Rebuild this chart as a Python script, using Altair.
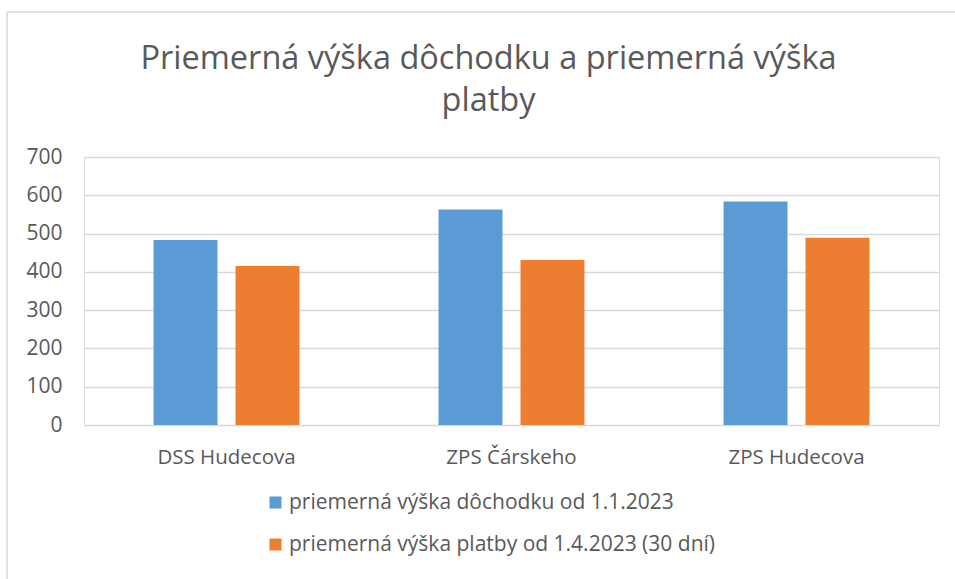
import altair as alt
import pandas as pd

categories = ["DSS Hudecova", "ZPS Čárskeho", "ZPS Hudecova"]
series = ["priemerná výška dôchodku od 1.1.2023", "priemerná výška platby od 1.4.2023 (30 dní)"]
pension = [483, 563, 584]
payment = [415, 431, 489]
y_ticks = [0, 100, 200, 300, 400, 500, 600, 700]
colors = ["#5B9BD5", "#ED7D31"]

rows = []
for c, a, b in zip(categories, pension, payment):
    rows.append({"kategoria": c, "rad": series[0], "hodnota": a})
    rows.append({"kategoria": c, "rad": series[1], "hodnota": b})
df = pd.DataFrame(rows)

FONT = "Open Sans"
TXT = "#595959"

bars = alt.Chart(df).mark_bar().encode(
    x=alt.X("kategoria:N", sort=categories, title=None,
            scale=alt.Scale(paddingInner=0, paddingOuter=0),
            axis=alt.Axis(labelAngle=0, ticks=False, domain=False, labelPadding=22,
                          labelFontSize=20.5, labelColor=TXT, labelFont=FONT, grid=False)),
    xOffset=alt.XOffset("rad:N", sort=series,
                        scale=alt.Scale(paddingInner=0.22, paddingOuter=0.848)),
    y=alt.Y("hodnota:Q", title=None,
            scale=alt.Scale(domain=[0, 700]),
            axis=alt.Axis(values=y_ticks, ticks=False, domain=False, labelPadding=22,
                          labelFontSize=21, labelColor=TXT, labelFont=FONT,
                          gridColor="#d9d9d9", gridWidth=1.5)),
    color=alt.Color("rad:N", sort=series, title=None,
                    scale=alt.Scale(domain=series, range=colors),
                    legend=alt.Legend(orient="none", legendX=181, legendY=335,
                                      direction="vertical", symbolType="square",
                                      symbolSize=144, symbolStrokeWidth=0,
                                      labelFontSize=21, labelColor=TXT, labelFont=FONT,
                                      rowPadding=20, labelOffset=3, labelLimit=700)),
)

border = alt.Chart(alt.Data(values=[{"a": 1}])).mark_rule(color="#d9d9d9", strokeWidth=1.5).encode(
    x=alt.value(-77), y=alt.value(-145), y2=alt.value(430)
)
border_top = alt.Chart(alt.Data(values=[{"a": 1}])).mark_rule(color="#d9d9d9", strokeWidth=1.5).encode(
    x=alt.value(-77), x2=alt.value(880), y=alt.value(-145)
)

chart = alt.layer(border, border_top, bars).properties(
    width=855, height=268,
    autosize=alt.AutoSizeParams(type="none"),
    padding={"left": 84, "top": 157, "right": 16, "bottom": 154},
    title=alt.TitleParams(
        ["Priemerná výška dôchodku a priemerná výška", "platby"],
        anchor="middle", frame="group", fontSize=32.5, font=FONT, color=TXT,
        fontWeight="normal", lineHeight=42, offset=0, dy=106, dx=-23,
    ),
).configure_view(stroke=None).configure(background="white")

chart.save("out.html", embed_options={"renderer": "svg", "actions": False})
